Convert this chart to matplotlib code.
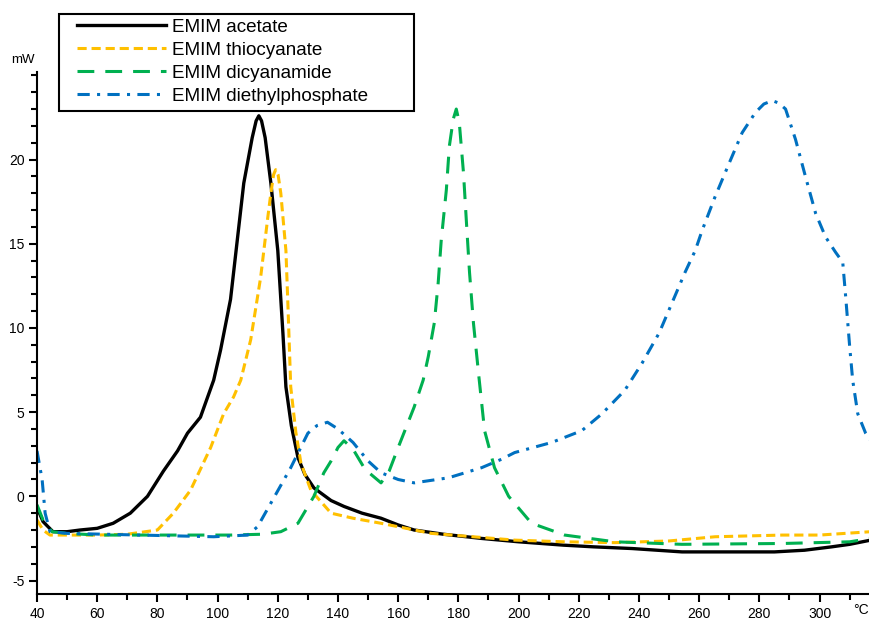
import matplotlib
matplotlib.use("Agg")
import matplotlib.pyplot as plt
from matplotlib.ticker import MultipleLocator
from matplotlib.patches import Rectangle

plt.rcParams['font.family'] = ['Liberation Sans', 'DejaVu Sans']
plt.rcParams['axes.unicode_minus'] = False

# ---- data ----
acetate_T = [40, 42, 45.3, 50, 54.3, 60, 65.3, 71, 76.7, 82, 86.7, 90, 94.3, 96.7, 98.7,
             101, 104.3, 108.7, 111.5, 112.8, 113.7, 114.6, 115.8, 117.7, 120, 121.7, 122.7,
             124.5, 126.7, 129, 132, 137.7, 142, 148, 154.3, 160, 165.3, 175, 187.7, 200,
             215, 225, 237.7, 254.3, 270, 285, 295, 304, 310, 317]
acetate_V = [-0.65, -1.5, -2.1, -2.1, -2.0, -1.9, -1.6, -1.0, 0.0, 1.5, 2.7, 3.75, 4.7, 5.9, 6.9,
             8.7, 11.7, 18.6, 21.3, 22.3, 22.6, 22.3, 21.3, 18.6, 14.6, 9.7, 6.5,
             4.2, 2.3, 1.3, 0.5, -0.25, -0.6, -1.0, -1.3, -1.7, -2.0, -2.25, -2.5, -2.7,
             -2.9, -3.0, -3.1, -3.3, -3.3, -3.3, -3.2, -3.0, -2.85, -2.6]

thio_T = [40, 42, 44.3, 50, 60, 70, 80, 85.3, 91, 97.7, 102, 105.3, 107.7, 111, 114.3,
          116.7, 117.7, 118.6, 119.3, 120.1, 121, 122.7, 123.3, 124.3, 126, 127.7, 131,
          137.7, 145, 154.3, 171, 198.7, 215, 232, 250, 265.3, 287.7, 300, 317]
thio_V = [-1.4, -2.0, -2.3, -2.3, -2.3, -2.25, -2.0, -1.0, 0.36, 2.9, 4.9, 5.9, 6.9, 9.3, 13.0,
          16.6, 18.0, 19.1, 19.4, 19.1, 18.0, 14.6, 11.7, 6.5, 3.8, 1.96, 0.36,
          -1.0, -1.3, -1.6, -2.2, -2.6, -2.7, -2.75, -2.65, -2.4, -2.3, -2.3, -2.1]

dicy_T = [40, 42, 45, 50, 60, 80, 104.3, 115, 121, 126.7, 132, 135.3, 137.7, 140, 142,
          145, 149, 154.3, 157, 160, 165.3, 168.3, 170, 172, 173.3, 174.3, 176, 177,
          178.3, 179.3, 180.3, 181.7, 182.7, 183.7, 185, 186.7, 188.7, 192, 196.7,
          204.3, 215.3, 232, 254.3, 287.7, 310, 317]
dicy_V = [-0.5, -1.4, -2.1, -2.2, -2.3, -2.3, -2.3, -2.25, -2.1, -1.6, 0.0, 1.4, 2.1, 2.9, 3.3,
          2.8, 1.6, 0.8, 1.5, 2.9, 5.3, 6.9, 8.3, 10.3, 12.7, 15.2, 18.2, 20.8,
          22.4, 23.0, 22.2, 19.2, 16.2, 13.3, 10.3, 7.3, 3.9, 1.7, 0.0,
          -1.6, -2.3, -2.7, -2.85, -2.8, -2.7, -2.5]

diet_T = [40, 41.7, 42.7, 44.3, 50, 74.3, 98.7, 110, 113.3, 117.7, 124.3, 130, 133, 136.5,
          140, 145, 150, 154.3, 160, 165.3, 176.7, 187.7, 194.3, 198.7, 211, 221, 227.7,
          235.3, 241, 246.7, 251, 255.3, 258.7, 261, 265.3, 270, 274.3, 278.7, 281.5, 284.3,
          286.5, 288.7, 292, 295.3, 298.7, 302, 305.3, 307.7, 308.7, 310, 311, 312.7, 315.3, 317]
diet_V = [2.7, 1.0, -1.0, -2.1, -2.2, -2.3, -2.4, -2.3, -1.8, -0.4, 1.7, 3.75, 4.2, 4.4,
          4.0, 3.2, 2.1, 1.4, 1.0, 0.8, 1.1, 1.7, 2.2, 2.6, 3.2, 3.9, 4.9,
          6.3, 7.9, 9.7, 11.5, 13.3, 14.6, 15.8, 17.8, 19.8, 21.6, 22.8, 23.3, 23.5,
          23.35, 23.0, 21.2, 19.0, 16.8, 15.4, 14.5, 13.9, 11.8, 8.9, 6.9, 4.9, 3.75, 3.3]

labels = ["EMIM acetate", "EMIM thiocyanate", "EMIM dicyanamide", "EMIM diethylphosphate"]
x_ticks = list(range(40, 301, 20))
y_ticks = [-5, 0, 5, 10, 15, 20]

# ---- figure ----
W, H = 869, 620
fig = plt.figure(figsize=(W / 100, H / 100), dpi=100)
ax = fig.add_axes([37 / W, 26 / H, (W - 37) / W + 0.002, (594 - 72) / H])

l1, = ax.plot(acetate_T, acetate_V, color='black', lw=2.4, solid_joinstyle='round')
l2, = ax.plot(thio_T, thio_V, color='#FFC000', lw=2.2, dashes=(3.0, 1.6))
l3, = ax.plot(dicy_T, dicy_V, color='#00B050', lw=2.2, dashes=(5.5, 3.6))
l4, = ax.plot(diet_T, diet_V, color='#0070C0', lw=2.2, dashes=(4.0, 2.4, 1.0, 2.4))

ax.set_xlim(40, 317)
ax.set_ylim(-5.8, 25.2)
ax.spines['top'].set_visible(False)
ax.spines['right'].set_visible(False)
ax.spines['left'].set_linewidth(1.5)
ax.spines['bottom'].set_linewidth(1.5)

ax.set_xticks(x_ticks)
ax.set_yticks(y_ticks)
ax.xaxis.set_minor_locator(MultipleLocator(10))
ax.yaxis.set_minor_locator(MultipleLocator(1))
ax.tick_params(axis='both', which='major', direction='out', length=6, width=1.5,
               labelsize=10, pad=3)
ax.tick_params(axis='both', which='minor', direction='out', length=4, width=1.5)

fig.text(23 / W, 1 - 60 / H, "mW", ha='center', va='center', fontsize=9.5)
fig.text(853 / W, 1 - 610 / H, "°C", ha='left', va='center', fontsize=10)

# legend frame drawn as a figure rectangle
fig.patches.append(Rectangle((59 / W, 1 - 111 / H), (414 - 59) / W, (111 - 14) / H,
                             transform=fig.transFigure, fill=True, facecolor='white',
                             edgecolor='black', lw=1.5, zorder=5))
leg = fig.legend([l1, l2, l3, l4], labels, loc='upper left',
                 bbox_to_anchor=(77 / W, 1 - 18.5 / H), fontsize=13.6,
                 handlelength=4.7, handletextpad=0.35, labelspacing=0.31,
                 borderpad=0, borderaxespad=0, frameon=False)
leg.set_zorder(6)

fig.savefig("out.png", dpi=100)
